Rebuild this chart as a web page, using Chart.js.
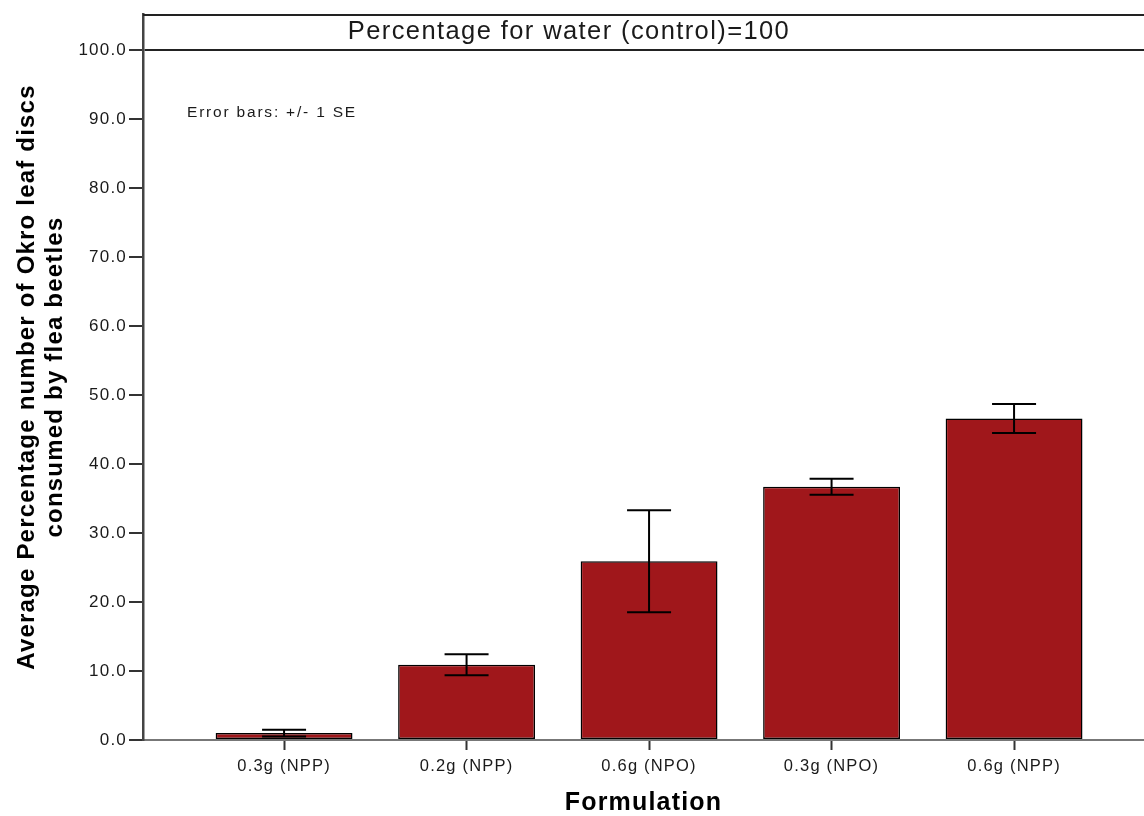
<!DOCTYPE html>
<html>
<head>
<meta charset="utf-8">
<script src="https://cdn.jsdelivr.net/npm/chart.js@4.4.1/dist/chart.umd.min.js"></script>
<style>
  html, body { margin: 0; padding: 0; background: #ffffff; overflow: hidden; }
  #wrap { width: 1144px; height: 816px; }
</style>
</head>
<body>
<div id="wrap"><canvas id="chart" width="1144" height="816"></canvas></div>
<script>
// ---- Data ----
const categories = ['0.3g (NPP)', '0.2g (NPP)', '0.6g (NPO)', '0.3g (NPO)', '0.6g (NPP)'];
const meanValues = [1.0, 10.9, 25.9, 36.7, 46.6];
const seValues = [0.5, 1.52, 7.4, 1.15, 2.1];
const yTickValues = [0, 10, 20, 30, 40, 50, 60, 70, 80, 90, 100];
const controlValue = 100;
const yAxisTitle = ['Average Percentage number of Okro leaf discs', 'consumed by flea beetles'];
const xAxisTitle = 'Formulation';
const headerText = 'Percentage for water (control)=100';
const noteText = 'Error bars: +/- 1 SE';

const FONT = '"Liberation Sans", Arial, sans-serif';
const SPACING = '1.2px';

const spacingPlugin = {
  id: 'spacing',
  beforeUpdate(chart) { chart.ctx.letterSpacing = SPACING; },
  beforeLayout(chart) { chart.ctx.letterSpacing = SPACING; },
  beforeDraw(chart) { chart.ctx.letterSpacing = SPACING; }
};

const decorPlugin = {
  id: 'decor',
  afterDatasetsDraw(chart) {
    const { ctx, chartArea, scales } = chart;
    const xs = scales.x, ys = scales.y;
    ctx.save();
    // error bars
    ctx.strokeStyle = '#000';
    ctx.lineWidth = 2;
    const cap = 22;
    meanValues.forEach((m, i) => {
      const x = xs.getPixelForValue(i);
      const yT = ys.getPixelForValue(m + seValues[i]);
      const yB = ys.getPixelForValue(m - seValues[i]);
      ctx.beginPath();
      ctx.moveTo(x, yT); ctx.lineTo(x, yB);
      ctx.moveTo(x - cap, yT); ctx.lineTo(x + cap, yT);
      ctx.moveTo(x - cap, yB); ctx.lineTo(x + cap, yB);
      ctx.stroke();
    });
    // top frame line
    ctx.strokeStyle = '#222';
    ctx.lineWidth = 2;
    ctx.beginPath();
    ctx.moveTo(chartArea.left, chartArea.top + 1);
    ctx.lineTo(chartArea.right, chartArea.top + 1);
    ctx.stroke();
    // header text inside the frame
    ctx.letterSpacing = '1.4px';
    ctx.fillStyle = '#1a1a1a';
    ctx.font = '25.5px ' + FONT;
    ctx.textAlign = 'center';
    ctx.textBaseline = 'middle';
    const yCtl = ys.getPixelForValue(controlValue);
    ctx.fillText(headerText, 569, (chartArea.top + yCtl) / 2);
    // error bar note
    ctx.font = '15.5px ' + FONT;
    ctx.textAlign = 'left';
    ctx.letterSpacing = '1.8px';
    ctx.fillText(noteText, 187, ys.getPixelForValue(90) - 6);
    ctx.restore();
  }
};

const ctx = document.getElementById('chart').getContext('2d');
new Chart(ctx, {
  type: 'bar',
  data: {
    datasets: [{
      data: meanValues.map((v, i) => ({ x: i, y: v })),
      backgroundColor: '#A0171B',
      borderColor: '#000000',
      borderWidth: 1.5,
      borderSkipped: false,
      categoryPercentage: 0.75,
      barPercentage: 1.0
    }]
  },
  options: {
    responsive: false,
    animation: false,
    devicePixelRatio: 1,
    layout: { padding: { top: 14, right: 0, left: 0, bottom: 0 } },
    plugins: {
      legend: { display: false },
      tooltip: { enabled: false }
    },
    scales: {
      x: {
        type: 'linear',
        offset: false,
        min: -0.773,
        max: 4.712,
        afterBuildTicks(scale) { scale.ticks = categories.map((c, i) => ({ value: i })); },
        afterFit(scale) { scale.height = 76; },
        ticks: {
          callback: (v) => categories[v],
          font: { family: FONT, size: 16.5 },
          color: '#1a1a1a',
          padding: 7,
          maxRotation: 0,
          autoSkip: false
        },
        grid: {
          offset: false,
          drawOnChartArea: false,
          drawTicks: true,
          tickLength: 10,
          tickColor: '#333',
          tickWidth: 2,
          color: 'rgba(0,0,0,0)'
        },
        border: { display: true, color: '#777', width: 2 },
        title: {
          display: true,
          text: xAxisTitle,
          color: '#000',
          font: { family: FONT, size: 25, weight: 'bold', lineHeight: 1 },
          padding: { top: 0, bottom: 0 }
        }
      },
      y: {
        min: 0,
        max: 105.2,
        afterBuildTicks(scale) { scale.ticks = yTickValues.map(v => ({ value: v })); },
        afterFit(scale) { scale.width = 143; },
        ticks: {
          callback: (v) => Number(v).toFixed(1),
          font: { family: FONT, size: 17 },
          color: '#1a1a1a',
          padding: 2
        },
        grid: {
          drawOnChartArea: true,
          drawTicks: true,
          tickLength: 14,
          tickColor: '#333',
          tickWidth: 2,
          lineWidth: 2,
          color: (c) => (c.tick && c.tick.value === controlValue) ? '#222' : 'rgba(0,0,0,0)'
        },
        border: { display: true, color: '#444', width: 2.5 },
        title: {
          display: true,
          text: yAxisTitle,
          color: '#000',
          font: { family: FONT, size: 24, weight: 'bold', lineHeight: 1.15 },
          padding: { top: 14, bottom: 0 }
        }
      }
    }
  },
  plugins: [spacingPlugin, decorPlugin]
});
</script>
</body>
</html>
